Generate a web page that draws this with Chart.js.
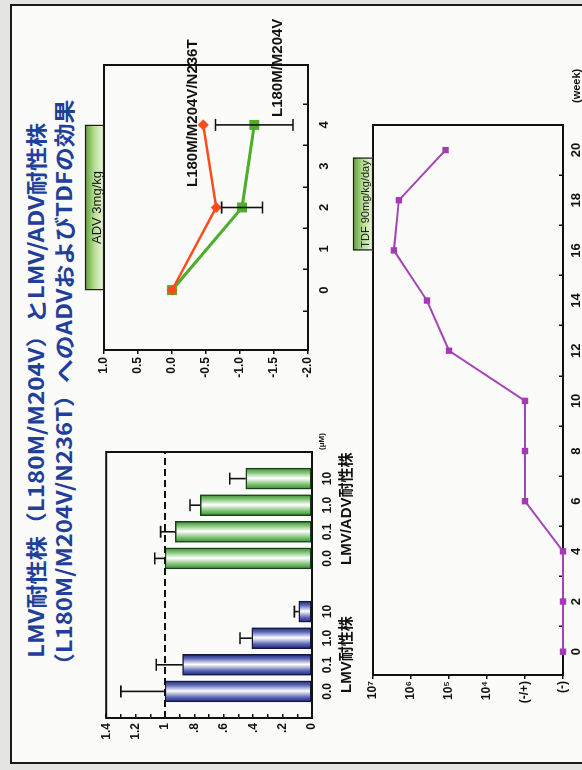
<!DOCTYPE html>
<html lang="ja">
<head>
<meta charset="utf-8">
<title>LMV耐性株とLMV/ADV耐性株へのADVおよびTDFの効果</title>
<script src="https://cdn.jsdelivr.net/npm/chart.js@4.4.1/dist/chart.umd.min.js"></script>
<style>
  html, body { margin:0; padding:0; width:582px; height:770px; overflow:hidden; background:#e4e4e2; }
  /* the slide is laid out landscape and turned a quarter turn to the left */
  #slide { position:absolute; left:0; top:0; width:770px; height:582px; overflow:hidden;
           transform-origin:0 0; transform:translate(0,770px) rotate(-90deg); background:#e4e4e2; }
  #frame { position:absolute; left:6px; top:10px; width:756px; height:620px; border:2px solid #1a1a1a; background:#fbfbfa; }
  .panel { position:absolute; }
  .panel canvas { display:block; }
  .txt { position:absolute; white-space:nowrap; font-family:"Liberation Sans", Arial, "Noto Sans CJK JP", sans-serif;
         font-weight:bold; color:#111; line-height:1; }
  .title { position:absolute; white-space:nowrap; font-family:"Noto Sans CJK JP", sans-serif; font-weight:bold;
           color:#1f3f9a; font-size:21px; line-height:1; transform-origin:0 50%; }
</style>
</head>
<body>
<div id="slide">
  <div id="frame"></div>

  <div class="title" id="title1" data-width="535" style="left:112px;top:25px">LMV耐性株（L180M/M204V）とLMV/ADV耐性株</div>
  <div class="title" id="title2" data-width="577" style="left:93px;top:53px">（L180M/M204V/N236T）へのADVおよびTDFの効果</div>

  <div class="panel" style="left:0;top:90px;width:345px;height:260px"><canvas id="ratioChart" width="345" height="260"></canvas></div>
  <div class="txt" style="left:77px;top:338px;font-size:15px">LMV耐性株</div>
  <div class="txt" style="left:205px;top:338px;font-size:15px">LMV/ADV耐性株</div>
  <div class="txt" style="left:320px;top:318px;font-size:8px">(μM)</div>

  <div class="panel" style="left:368px;top:78px;width:402px;height:272px"><canvas id="advChart" width="402" height="272"></canvas></div>
  <div class="txt" style="left:583px;top:184px;font-size:15px">L180M/M204V/N236T</div>
  <div class="txt" style="left:653px;top:269px;font-size:15px">L180M/M204V</div>

  <div class="panel" style="left:28px;top:345px;width:712px;height:237px"><canvas id="tdfChart" width="712" height="237"></canvas></div>
  <div class="txt" style="left:667px;top:571px;font-size:11px">(week)</div>
</div>

<script>
// ---------- bar panel: relative values in LMV-resistant and LMV/ADV-resistant strains ----------
const concentrations = ['0.0', '0.1', '1.0', '10'];          // μM
const lmvResistant = [1.0, 0.88, 0.41, 0.09];
const lmvResistantErr = [0.30, 0.18, 0.08, 0.03];
const lmvAdvResistant = [1.0, 0.93, 0.76, 0.45];
const lmvAdvResistantErr = [0.07, 0.10, 0.07, 0.11];
const ratioTickLabels = ['0', '', '.2', '', '.4', '', '.6', '', '.8', '', '1', '', '1.2', '', '1.4'];
const ratioReference = 1;

// ---------- ADV 3mg/kg panel: change in log viral load ----------
const advTime = [0, 2, 4];
const tripleMutant = [0, -0.65, -0.46];        // L180M/M204V/N236T
const doubleMutant = [0, -1.03, -1.21];        // L180M/M204V
const doubleMutantErr = [0, 0.30, 0.57];
const advTicks = [0, 1, 2, 3, 4];
const logDropTicks = [1.0, 0.5, 0.0, -0.5, -1.0, -1.5, -2.0];
const advPeriod = [0, 4];

// ---------- TDF 90mg/kg/day panel: HBV DNA by week ----------
// y position: 0 = (-), 1 = (-/+), 2..5 = 10^4..10^7 copies (log scale)
const tdfWeeks = [0, 2, 4, 6, 8, 10, 12, 14, 16, 18, 20];
const hbvDnaLevel = [0, 0, 0, 1, 1, 1, 3.0, 3.58, 4.45, 4.32, 3.09];
const weekTicks = [0, 2, 4, 6, 8, 10, 12, 14, 16, 18, 20];
const dnaTickLabels = ['(-)', '(-/+)', '10⁴', '10⁵', '10⁶', '10⁷'];
const tdfPeriod = [16, 19.7];

Chart.defaults.font.family = '"Liberation Sans", Arial, sans-serif';
Chart.defaults.font.weight = 'bold';
Chart.defaults.font.size = 12;
Chart.defaults.color = '#111';
Chart.defaults.animation = false;
Chart.defaults.plugins.legend.display = false;
Chart.defaults.plugins.tooltip.enabled = false;

const INK = '#111';

// box around the plotting area
const plotFrame = {
  id: 'plotFrame',
  beforeDatasetsDraw(chart) {
    const { ctx, chartArea: a } = chart;
    ctx.save();
    ctx.strokeStyle = INK; ctx.lineWidth = 2;
    ctx.strokeRect(a.left, a.top, a.right - a.left, a.bottom - a.top);
    ctx.restore();
  }
};

// one-sided (bars) or two-sided (points) error bars read from dataset.errorBars
const errorBars = {
  id: 'errorBars',
  afterDatasetsDraw(chart, args, opts) {
    const { ctx, scales: { y } } = chart;
    chart.data.datasets.forEach((ds, di) => {
      if (!ds.errorBars) return;
      const meta = chart.getDatasetMeta(di);
      meta.data.forEach((el, i) => {
        const raw = ds.data[i];
        const v = raw == null ? null : (typeof raw === 'object' ? raw.y : raw);
        const e = ds.errorBars[i];
        if (v == null || !e) return;
        const px = el.x;
        const hi = y.getPixelForValue(v + e);
        const lo = opts.twoSided ? y.getPixelForValue(v - e) : y.getPixelForValue(v);
        const cap = opts.cap || 6;
        ctx.save();
        ctx.strokeStyle = INK; ctx.lineWidth = 1.6;
        ctx.beginPath();
        ctx.moveTo(px, lo); ctx.lineTo(px, hi);
        ctx.moveTo(px - cap, hi); ctx.lineTo(px + cap, hi);
        if (opts.twoSided) { ctx.moveTo(px - cap, lo); ctx.lineTo(px + cap, lo); }
        ctx.stroke();
        ctx.restore();
      });
    });
  }
};

// dashed reference line across the bar panel
const referenceLine = {
  id: 'referenceLine',
  afterDatasetsDraw(chart, args, opts) {
    if (opts.value == null) return;
    const { ctx, chartArea: a, scales: { y } } = chart;
    const py = y.getPixelForValue(opts.value);
    ctx.save();
    ctx.strokeStyle = INK; ctx.lineWidth = 2; ctx.setLineDash([7, 4]);
    ctx.beginPath(); ctx.moveTo(a.left, py); ctx.lineTo(a.right, py); ctx.stroke();
    ctx.restore();
  }
};

// green dosing-period label sitting on top of the plot
const dosingBar = {
  id: 'dosingBar',
  afterDraw(chart, args, opts) {
    if (!opts.period) return;
    const { ctx, chartArea: a, scales: { x } } = chart;
    const x0 = x.getPixelForValue(opts.period[0]);
    const x1 = x.getPixelForValue(opts.period[1]);
    const h = opts.height, y0 = a.top - h;
    if (![x0, x1, y0].every(Number.isFinite)) return;
    const g = ctx.createLinearGradient(0, y0, 0, a.top);
    g.addColorStop(0, '#5a9c37');
    g.addColorStop(0.5, '#b7df93');
    g.addColorStop(1, '#ecf7df');
    ctx.save();
    ctx.fillStyle = g;
    ctx.fillRect(x0, y0, x1 - x0, h);
    ctx.strokeStyle = '#1d1d1d'; ctx.lineWidth = 1.2;
    ctx.strokeRect(x0 + 0.5, y0 + 0.5, x1 - x0 - 1, h - 1);
    ctx.fillStyle = INK;
    ctx.font = `${opts.fontSize}px "Liberation Sans", Arial, sans-serif`;
    ctx.textAlign = 'center'; ctx.textBaseline = 'middle';
    ctx.fillText(opts.text, (x0 + x1) / 2, y0 + h * 0.66);
    ctx.restore();
  }
};

function fixTicks(values) {
  return (scale) => { scale.ticks = values.map(v => ({ value: v })); };
}
function fixWidth(w) { return (scale) => { scale.width = w; }; }
function fixHeight(h) { return (scale) => { scale.height = h; }; }

// ---------- bar panel ----------
const blank = [null];
const barLabels = ['', ...concentrations, '', ...concentrations, ''];
const pad = n => Array(n).fill(null);
const lmvSeries = [...blank, ...lmvResistant, ...pad(6)];
const lmvErrSeries = [...blank, ...lmvResistantErr, ...pad(6)];
const lmvAdvSeries = [...pad(6), ...lmvAdvResistant, ...blank];
const lmvAdvErrSeries = [...pad(6), ...lmvAdvResistantErr, ...blank];
const BAR_W = 21;

// white sheen across the middle of each bar
function barGradient(dark, mid) {
  return (c) => {
    const chart = c.chart;
    const xs = chart.scales && chart.scales.x;
    if (!xs || c.type !== 'data') return dark;
    const cx = xs.getPixelForValue(c.dataIndex);
    if (!Number.isFinite(cx)) return dark;
    const g = chart.ctx.createLinearGradient(cx - BAR_W / 2, 0, cx + BAR_W / 2, 0);
    g.addColorStop(0, dark);
    g.addColorStop(0.22, mid);
    g.addColorStop(0.52, '#ffffff');
    g.addColorStop(0.8, mid);
    g.addColorStop(1, dark);
    return g;
  };
}

new Chart(document.getElementById('ratioChart'), {
  type: 'bar',
  data: {
    labels: barLabels,
    datasets: [
      { data: lmvSeries, errorBars: lmvErrSeries, backgroundColor: barGradient('#1c2878', '#5b66b4'),
        borderColor: '#101840', borderWidth: 1.5, borderSkipped: false },
      { data: lmvAdvSeries, errorBars: lmvAdvErrSeries, backgroundColor: barGradient('#348f2e', '#7cc070'),
        borderColor: '#18401a', borderWidth: 1.5, borderSkipped: false }
    ]
  },
  options: {
    responsive: false, devicePixelRatio: 1,
    layout: { padding: { left: 0, top: 12, right: 27, bottom: 0 } },
    datasets: { bar: { grouped: false, barThickness: BAR_W } },
    scales: {
      x: {
        type: 'category', offset: false,
        grid: { display: false, drawTicks: false }, border: { display: false },
        ticks: { autoSkip: false, maxRotation: 0, padding: 8, font: { size: 12 } },
        afterFit: fixHeight(38)
      },
      y: {
        min: 0, max: 1.4,
        afterBuildTicks: fixTicks(ratioTickLabels.map((_, i) => i / 10)),
        grid: { drawOnChartArea: false, drawTicks: true, tickLength: -4, color: INK, lineWidth: 1.5 },
        border: { display: false },
        ticks: { autoSkip: false, padding: 9, callback: (v, i) => ratioTickLabels[i], font: { size: 12 } },
        afterFit: fixWidth(52)
      }
    },
    plugins: { referenceLine: { value: ratioReference }, errorBars: { twoSided: false, cap: 6 } }
  },
  plugins: [plotFrame, referenceLine, errorBars]
});

// ---------- ADV panel ----------
const toPoints = (xs, ys) => xs.map((x, i) => ({ x, y: ys[i] }));

new Chart(document.getElementById('advChart'), {
  type: 'line',
  data: {
    datasets: [
      { label: 'L180M/M204V/N236T', data: toPoints(advTime, tripleMutant),
        borderColor: '#ff4b1c', backgroundColor: '#ff4b1c', borderWidth: 2.5,
        pointStyle: 'rectRot', pointRadius: 5.5, pointBorderWidth: 0, clip: false },
      { label: 'L180M/M204V', data: toPoints(advTime, doubleMutant), errorBars: doubleMutantErr,
        borderColor: '#4dae2b', backgroundColor: '#4dae2b', borderWidth: 3,
        pointStyle: 'rect', pointRadius: 7, pointBorderWidth: 0, clip: false }
    ]
  },
  options: {
    responsive: false, devicePixelRatio: 1,
    layout: { padding: { left: 0, top: 26, right: 65, bottom: 0 } },
    scales: {
      x: {
        type: 'linear', min: -1.45, max: 5.45,
        afterBuildTicks: fixTicks(advTicks),
        grid: { offset: true, drawOnChartArea: false, drawTicks: true, tickLength: -5, color: INK, lineWidth: 1.5 },
        border: { display: false },
        ticks: { padding: 14, font: { size: 13 } },
        afterFit: fixHeight(42)
      },
      y: {
        min: -2, max: 1,
        afterBuildTicks: fixTicks(logDropTicks),
        grid: { drawOnChartArea: false, drawTicks: true, tickLength: 4, color: INK, lineWidth: 1.5 },
        border: { display: false },
        ticks: { padding: 3, callback: v => v.toFixed(1), font: { size: 12 } },
        afterFit: fixWidth(52)
      }
    },
    plugins: {
      errorBars: { twoSided: true, cap: 6 },
      dosingBar: { period: advPeriod, text: 'ADV 3mg/kg', height: 19, fontSize: 13 }
    }
  },
  plugins: [plotFrame, errorBars, dosingBar]
});

// ---------- TDF panel ----------
new Chart(document.getElementById('tdfChart'), {
  type: 'line',
  data: {
    datasets: [
      { label: 'HBV DNA', data: toPoints(tdfWeeks, hbvDnaLevel),
        borderColor: '#a444b6', backgroundColor: '#a33ab4', borderWidth: 2,
        pointStyle: 'rect', pointRadius: 4.5, pointBorderWidth: 0, clip: false }
    ]
  },
  options: {
    responsive: false, devicePixelRatio: 1,
    layout: { padding: { left: 0, top: 28, right: 95, bottom: 0 } },
    scales: {
      x: {
        type: 'linear', min: -0.93, max: 21,
        afterBuildTicks: fixTicks(weekTicks),
        grid: { offset: true, drawOnChartArea: false, drawTicks: true, tickLength: -4, color: INK, lineWidth: 1.5 },
        border: { display: false },
        ticks: { padding: 10, font: { size: 13 } },
        afterFit: fixHeight(19)
      },
      y: {
        min: 0, max: 5,
        afterBuildTicks: fixTicks(dnaTickLabels.map((_, i) => i)),
        grid: { drawOnChartArea: false, drawTicks: true, tickLength: 4, color: INK, lineWidth: 1.5 },
        border: { display: false },
        ticks: { padding: 2, callback: (v, i) => dnaTickLabels[i], font: { size: 12 } },
        afterFit: fixWidth(67)
      }
    },
    plugins: {
      dosingBar: { period: tdfPeriod, text: 'TDF 90mg/kg/day', height: 20, fontSize: 11 }
    }
  },
  plugins: [plotFrame, dosingBar]
});

// stretch each title line to its set width
function fitTitles() {
  document.querySelectorAll('.title').forEach(el => {
    el.style.transform = 'none';
    const w = el.offsetWidth;
    if (w > 0) el.style.transform = `scaleX(${(+el.dataset.width / w).toFixed(4)})`;
  });
}
fitTitles();
if (document.fonts && document.fonts.ready) document.fonts.ready.then(fitTitles);
</script>
</body>
</html>
